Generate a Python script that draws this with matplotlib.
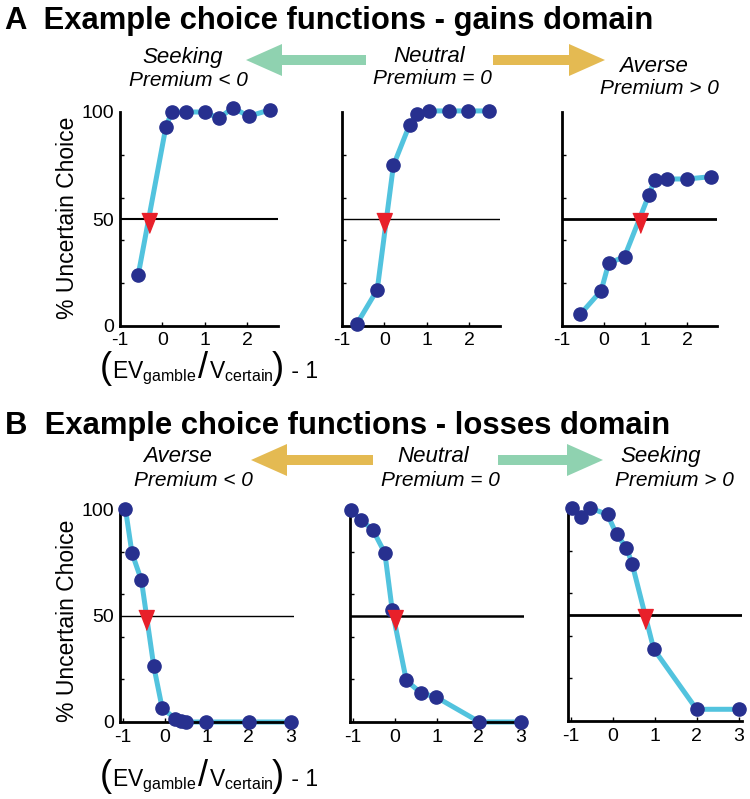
import numpy as np
import matplotlib
matplotlib.use('Agg')
import matplotlib.pyplot as plt
from matplotlib.patches import FancyArrow

plt.rcParams['font.family'] = ['Liberation Sans', 'DejaVu Sans']
plt.rcParams['mathtext.fontset'] = 'custom'
plt.rcParams['mathtext.rm'] = 'Liberation Sans'
plt.rcParams['mathtext.it'] = 'Liberation Sans:italic'
plt.rcParams['mathtext.fallback'] = 'stixsans'

# ---- data ----
# gains domain (A)
gain_seek_x = [-0.57, 0.08, 0.22, 0.55, 1.0, 1.32, 1.66, 2.03, 2.53]
gain_seek_y = [24, 93, 100, 100, 100, 97, 102, 98, 101]
gain_seek_ip = -0.32

gain_neut_x = [-0.65, -0.17, 0.21, 0.59, 0.76, 1.06, 1.51, 1.97, 2.45]
gain_neut_y = [1, 17, 75, 94, 99, 100.5, 100.5, 100.5, 100.5]
gain_neut_ip = 0.0

gain_avrs_x = [-0.56, -0.06, 0.12, 0.50, 1.08, 1.22, 1.53, 2.01, 2.58]
gain_avrs_y = [5.5, 16.5, 29.3, 32.4, 61, 68.2, 68.7, 68.7, 69.8]
gain_avrs_ip = 0.87

# losses domain (B)
loss_avrs_x = [-0.93, -0.775, -0.55, -0.256, -0.057, 0.26, 0.38, 0.50, 0.98, 2.02, 3.0]
loss_avrs_y = [100, 79.3, 66.5, 26.1, 6.6, 1.4, 0.3, 0, 0, 0, 0]
loss_avrs_ip = -0.45

loss_neut_x = [-1.03, -0.81, -0.52, -0.23, -0.055, 0.28, 0.63, 0.99, 2.02, 3.0]
loss_neut_y = [99.4, 95, 90.3, 79.3, 52.4, 19.5, 13.6, 11.7, 0, 0]
loss_neut_ip = 0.0

loss_seek_x = [-0.96, -0.75, -0.54, -0.12, 0.095, 0.33, 0.47, 0.98, 2.0, 3.02]
loss_seek_y = [100, 96, 100, 97, 87.6, 81.4, 73.5, 33.8, 5.5, 5.5]
loss_seek_ip = 0.77

gain_xticks = [-1, 0, 1, 2]
loss_xticks = [-1, 0, 1, 2, 3]
yticks = [0, 50, 100]
yminor = [20, 40, 60, 80]

LINE = '#52c3de'
DOT = '#27308f'
TRI = '#e8202a'
GREEN = '#8fd2b0'
YELLOW = '#e4ba52'

W, H = 750, 799
fig = plt.figure(figsize=(W / 100, H / 100), dpi=100)

def px_ax(left, right, top, bottom):
    return fig.add_axes([left / W, 1 - bottom / H, (right - left) / W, (bottom - top) / H])

tri_marker = [(-0.78, 0.6), (0.78, 0.6), (0, -1.4)]

def panel(ax, x, y, ip, xlim, xticks, ylab, hlw, pad):
    ax.axhline(50, color='black', lw=hlw, zorder=1)
    ax.plot(x, y, color=LINE, lw=3.6, zorder=2, clip_on=False)
    ax.plot(x, y, 'o', color=DOT, ms=9.5, zorder=3, clip_on=False)
    ax.plot([ip], [50], marker=tri_marker, color=TRI, ms=20, ls='none', zorder=4, clip_on=False)
    ax.set_xlim(*xlim)
    ax.set_ylim(0, 100)
    for s in ['top', 'right']:
        ax.spines[s].set_visible(False)
    for s in ['left', 'bottom']:
        ax.spines[s].set_linewidth(2.0)
    ax.set_xticks(xticks)
    ax.set_xticklabels([str(t) for t in xticks])
    ax.set_yticks(yticks)
    ax.set_yticks(yminor, minor=True)
    if ylab:
        ax.set_yticklabels([str(t) for t in yticks])
    else:
        ax.set_yticklabels([])
    ax.tick_params(axis='x', direction='in', length=3, width=1, labelsize=14, pad=pad)
    ax.tick_params(axis='y', which='major', length=0, labelsize=14, pad=4)
    ax.tick_params(axis='y', which='minor', direction='in', length=3, width=1)

gx = (-1, 2.72)
lx = (-1.06, 3.08)

a1 = px_ax(120, 278, 112, 326)
a2 = px_ax(342, 500, 112, 326)
a3 = px_ax(562, 717, 112, 326)
panel(a1, gain_seek_x, gain_seek_y, gain_seek_ip, gx, gain_xticks, True, 1.5, 4)
panel(a2, gain_neut_x, gain_neut_y, gain_neut_ip, gx, gain_xticks, False, 1.0, 4)
panel(a3, gain_avrs_x, gain_avrs_y, gain_avrs_ip, gx, gain_xticks, False, 2.0, 4)

b1 = px_ax(120, 294, 509, 722)
b2 = px_ax(350, 524, 509, 722)
b3 = px_ax(568, 742, 508, 721)
panel(b1, loss_avrs_x, loss_avrs_y, loss_avrs_ip, lx, loss_xticks, True, 1.0, 5)
panel(b2, loss_neut_x, loss_neut_y, loss_neut_ip, lx, loss_xticks, False, 1.8, 5)
panel(b3, loss_seek_x, loss_seek_y, loss_seek_ip, lx, loss_xticks, False, 2.0, 5)

def ftext(x, y, s, **kw):
    return fig.text(x / W, 1 - y / H, s, **kw)

# titles
ftext(5, 29, 'A  Example choice functions - gains domain', fontsize=22.3, fontweight='bold',
      ha='left', va='baseline')
ftext(5, 434, 'B  Example choice functions - losses domain', fontsize=22.3, fontweight='bold',
      ha='left', va='baseline')

# attitude labels
top_labels = [
    ('Seeking', 183, 57, 'Premium < 0', 188, 80),
    ('Neutral', 429, 57, 'Premium = 0', 432, 79),
    ('Averse', 654, 67, 'Premium > 0', 659, 88),
    ('Averse', 178, 457, 'Premium < 0', 193, 480),
    ('Neutral', 433, 457, 'Premium = 0', 440, 480),
    ('Seeking', 661, 457, 'Premium > 0', 674, 480),
]
for w, wx, wy, p, ppx, ppy in top_labels:
    ftext(wx, wy, w, fontsize=16, style='italic', ha='center', va='center')
    ftext(ppx, ppy, p, fontsize=15, style='italic', ha='center', va='center')

# arrows drawn on a pixel overlay
ov = fig.add_axes([0, 0, 1, 1])
ov.set_xlim(0, W)
ov.set_ylim(H, 0)
ov.axis('off')
ov.set_zorder(-1)
arrows = [(366, 246, 60, GREEN), (493, 605, 60, YELLOW),
          (373, 251, 460, YELLOW), (498, 603, 460, GREEN)]
for x0, x1, yy, c in arrows:
    ov.add_patch(FancyArrow(x0, yy, x1 - x0, 0, width=10, head_width=32, head_length=36,
                            length_includes_head=True, color=c, lw=0))

# axis labels
for yc in [218, 621]:
    ftext(68, yc, '% Uncertain Choice', fontsize=16.5, rotation=90, ha='center', va='center')

# x label built from pieces so parentheses and slash are tall
renderer = fig.canvas.get_renderer()
xlab_pieces = [('(', 26, 0), (r'$\mathrm{EV}_{\mathrm{gamble}}$', 16.5, 1),
               ('/', 26, 1), (r'$\mathrm{V}_{\mathrm{certain}}$', 16.5, -1),
               (')', 26, 1), (' - 1', 16.5, 0)]
for base in [378, 786]:
    x = 100
    for s, fs, gap in xlab_pieces:
        t = ftext(x, base, s, fontsize=fs, ha='left', va='baseline')
        bb = t.get_window_extent(renderer)
        x += bb.width + gap

fig.savefig('out.png', dpi=100)
